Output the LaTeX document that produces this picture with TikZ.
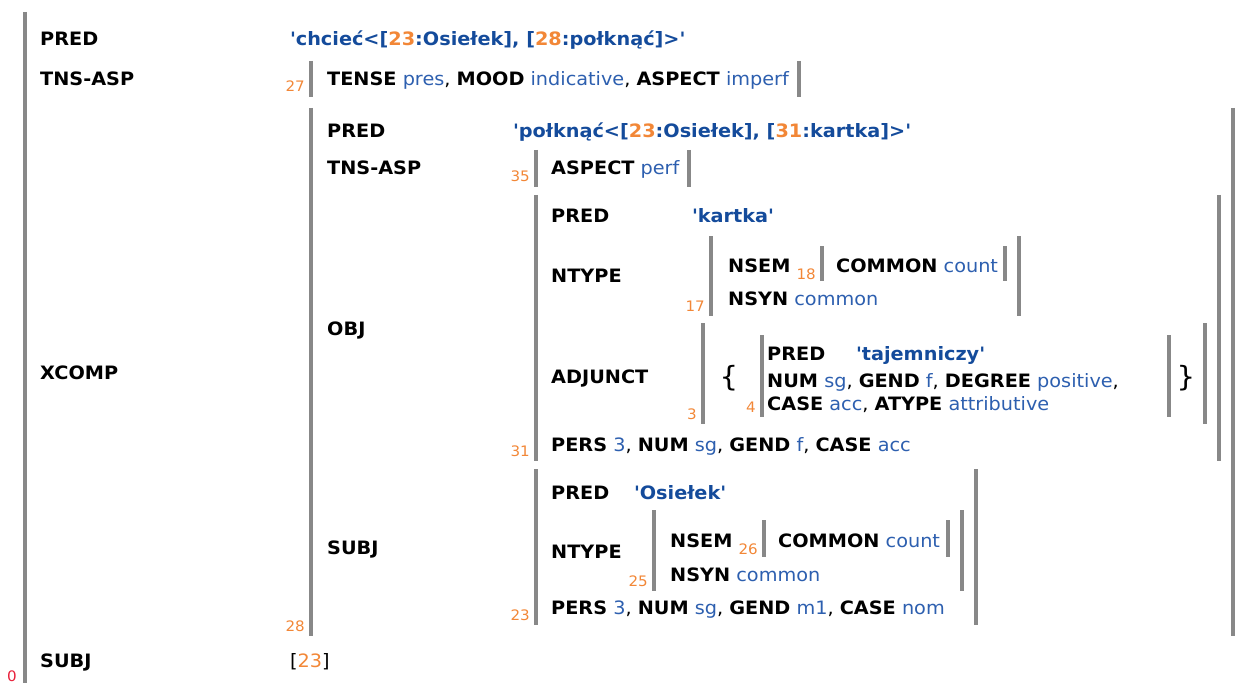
\documentclass[tikz,border=0pt]{standalone}
\usepackage{fontspec}
\setmainfont[FakeStretch=1.045]{DejaVu Sans}
\definecolor{valblue}{RGB}{45,95,175}
\definecolor{predblue}{RGB}{20,75,155}
\definecolor{idorange}{RGB}{242,135,55}
\definecolor{bargray}{RGB}{136,136,136}
\definecolor{rootred}{RGB}{232,32,58}
\newcommand{\fattr}[1]{\textbf{#1}}
\newcommand{\fval}[1]{\textcolor{valblue}{#1}}
\newcommand{\fnum}[1]{\textcolor{idorange}{#1}}
\newcommand{\fpred}[1]{\textcolor{predblue}{\textbf{\textquotesingle#1\textquotesingle}}}

\begin{document}
\begin{tikzpicture}[x=1bp, y=-1bp,
    font=\fontsize{18.5}{22}\selectfont,
    lbl/.style={anchor=base west, inner sep=0pt},
    fid/.style={anchor=base east, inner sep=0pt, text=idorange,
      font=\fontsize{14.5}{16}\selectfont},
    fbar/.style={draw=bargray, line width=3.5bp},
    brace/.style={inner sep=0pt, font=\fontsize{28}{28}\selectfont}]
  \useasboundingbox (0,0) rectangle (1249,683);

  % bars of the f-structures
  \foreach \x/\a/\b in {25/12/690, 311/61/97, 799/61/97, 311/108/636, 1233/108/636,
      536/150/187, 689/150/187, 536/195/461, 1219/195/461,
      711/236/316, 1019/236/316, 822/246/281, 1005/246/281,
      703/323/424, 1205/323/424, 762/335/417, 1169/335/417,
      536/469/625, 976/469/625, 654/510/591, 962/510/591, 764/520/557, 948/520/557}
    \draw[fbar] (\x,\a) -- (\x,\b);

  % f-structure 0
  \node[fid, text=rootred] (id0) at (17,681) {0};
  \node[lbl] (pred0) at (40,46) {\fattr{PRED}};
  \node[lbl] (predv0) at (290,46) {\fpred{chcieć<[\fnum{23}:Osiełek], [\fnum{28}:połknąć]>}};
  \node[lbl] (tns0) at (40,86) {\fattr{TNS-ASP}};
  \node[fid] (id27) at (305,92) {27};
  \node[lbl] (tnsv0) at (327,86) {\fattr{TENSE} \fval{pres}, \fattr{MOOD} \fval{indicative}, \fattr{ASPECT} \fval{imperf}};
  \node[lbl] (xcomp0) at (40,379) {\fattr{XCOMP}};
  \node[fid] (id28) at (305,631) {28};
  \node[lbl] (subj0) at (40,667) {\fattr{SUBJ}};
  \node[lbl] (subjv0) at (290,667) {[\fnum{23}]};

  % f-structure 28
  \node[lbl] (pred28) at (327,138) {\fattr{PRED}};
  \node[lbl] (predv28) at (513,138) {\fpred{połknąć<[\fnum{23}:Osiełek], [\fnum{31}:kartka]>}};
  \node[lbl] (tns28) at (327,175) {\fattr{TNS-ASP}};
  \node[fid] (id35) at (530,182) {35};
  \node[lbl] (tnsv28) at (551,175) {\fattr{ASPECT} \fval{perf}};
  \node[lbl] (obj28) at (327,335) {\fattr{OBJ}};
  \node[fid] (id31) at (530,456) {31};
  \node[lbl] (subj28) at (327,554) {\fattr{SUBJ}};
  \node[fid] (id23) at (530,620) {23};

  % f-structure 31
  \node[lbl] (pred31) at (551,223) {\fattr{PRED}};
  \node[lbl] (predv31) at (692,223) {\fpred{kartka}};
  \node[lbl] (ntype31) at (551,282) {\fattr{NTYPE}};
  \node[fid] (id17) at (705,311) {17};
  \node[lbl] (nsem17) at (728,272) {\fattr{NSEM}};
  \node[fid] (id18) at (816,279) {18};
  \node[lbl] (nsemv17) at (836,272) {\fattr{COMMON} \fval{count}};
  \node[lbl] (nsyn17) at (728,305) {\fattr{NSYN} \fval{common}};
  \node[lbl] (adj31) at (551,383) {\fattr{ADJUNCT}};
  \node[fid] (id3) at (697,419) {3};
  \node[brace] (lbr) at (729,378) {\{};
  \node[fid] (id4) at (756,412) {4};
  \node[lbl] (pred4) at (767,360) {\fattr{PRED}};
  \node[lbl] (predv4) at (856,360) {\fpred{tajemniczy}};
  \node[lbl] (agr4a) at (767,387) {\fattr{NUM} \fval{sg}, \fattr{GEND} \fval{f}, \fattr{DEGREE} \fval{positive},};
  \node[lbl] (agr4b) at (767,410) {\fattr{CASE} \fval{acc}, \fattr{ATYPE} \fval{attributive}};
  \node[brace] (rbr) at (1186,378) {\}};
  \node[lbl] (agr31) at (551,451) {\fattr{PERS} \fval{3}, \fattr{NUM} \fval{sg}, \fattr{GEND} \fval{f}, \fattr{CASE} \fval{acc}};

  % f-structure 23
  \node[lbl] (pred23) at (551,499) {\fattr{PRED}};
  \node[lbl] (predv23) at (634,499) {\fpred{Osiełek}};
  \node[lbl] (ntype23) at (551,558) {\fattr{NTYPE}};
  \node[fid] (id25) at (648,586) {25};
  \node[lbl] (nsem25) at (670,547) {\fattr{NSEM}};
  \node[fid] (id26) at (758,554) {26};
  \node[lbl] (nsemv25) at (778,547) {\fattr{COMMON} \fval{count}};
  \node[lbl] (nsyn25) at (670,581) {\fattr{NSYN} \fval{common}};
  \node[lbl] (agr23) at (551,614) {\fattr{PERS} \fval{3}, \fattr{NUM} \fval{sg}, \fattr{GEND} \fval{m1}, \fattr{CASE} \fval{nom}};
\end{tikzpicture}
\end{document}
